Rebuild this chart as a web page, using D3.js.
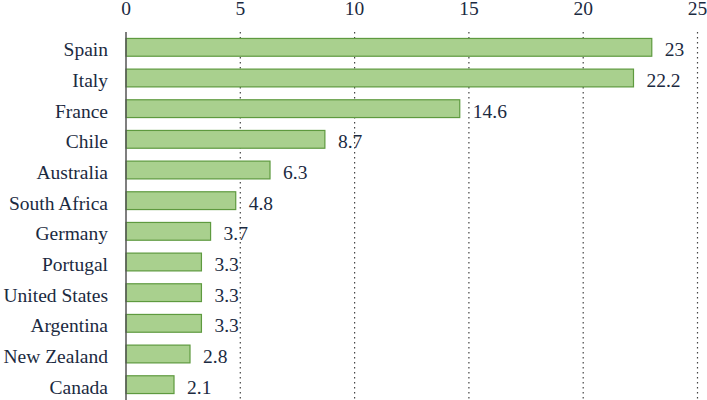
<!DOCTYPE html>
<html>
<head>
<meta charset="utf-8">
<script src="https://cdn.jsdelivr.net/npm/d3@7"></script>
<style>
  html, body { margin: 0; padding: 0; background: #ffffff; }
  svg { display: block; }
</style>
</head>
<body>
<svg id="chart" width="707" height="400"></svg>
<script>
const countries = ["Spain", "Italy", "France", "Chile", "Australia", "South Africa", "Germany", "Portugal", "United States", "Argentina", "New Zealand", "Canada"];
const values = [23, 22.2, 14.6, 8.7, 6.3, 4.8, 3.7, 3.3, 3.3, 3.3, 2.8, 2.1];
const tickValues = [0, 5, 10, 15, 20, 25];

// pick the first installed Times-like serif font
function pickFont(candidates) {
  const ctx = document.createElement("canvas").getContext("2d");
  const sample = "South Africa New Zealand 0123456789";
  const widthOf = f => { ctx.font = "40px " + f; return ctx.measureText(sample).width; };
  const baseMono = widthOf("monospace");
  const baseSans = widthOf("sans-serif");
  for (const c of candidates) {
    const w1 = widthOf("'" + c + "', monospace");
    const w2 = widthOf("'" + c + "', sans-serif");
    if (w1 !== baseMono || w2 !== baseSans) return "'" + c + "'";
  }
  return "serif";
}
const FONT = pickFont(["Liberation Serif", "Tinos", "Times New Roman", "Times", "Nimbus Roman", "DejaVu Serif", "Noto Serif"]) + ", serif";
const TEXT_COLOR = "#1b2a41";

const svg = d3.select("#chart");
const plotLeft = 126, plotRight = 697.5, plotTop = 32, plotBottom = 400;

const x = d3.scaleLinear().domain([0, 25]).range([plotLeft, plotRight]);
const y = d3.scaleBand().domain(countries).range([plotTop, plotBottom]).paddingInner(0.42).paddingOuter(0.21);

// gridlines
svg.append("g").selectAll("line").data(tickValues.filter(d => d > 0)).join("line")
  .attr("x1", d => x(d)).attr("x2", d => x(d))
  .attr("y1", plotTop).attr("y2", plotBottom)
  .attr("stroke", "#444").attr("stroke-width", 1.2)
  .attr("stroke-dasharray", "1.5,3.5");

// top tick labels
svg.append("g").selectAll("text").data(tickValues).join("text")
  .attr("x", d => x(d)).attr("y", 15)
  .attr("text-anchor", "middle")
  .style("font-family", FONT).attr("fill", TEXT_COLOR)
  .style("font-size", "19.5px")
  .text(d => d);

// bars
svg.append("g").selectAll("rect").data(countries).join("rect")
  .attr("x", x(0))
  .attr("y", d => y(d))
  .attr("width", (d, i) => x(values[i]) - x(0))
  .attr("height", y.bandwidth())
  .attr("fill", "#a9d08e")
  .attr("stroke", "#5e9a3f")
  .attr("stroke-width", 1.2);

// left axis line
svg.append("line")
  .attr("x1", x(0)).attr("x2", x(0))
  .attr("y1", plotTop).attr("y2", plotBottom)
  .attr("stroke", "#555").attr("stroke-width", 1.5);

// category labels
svg.append("g").selectAll("text").data(countries).join("text")
  .attr("x", 108)
  .attr("y", d => y(d) + y.bandwidth() / 2 + 9)
  .attr("text-anchor", "end")
  .style("font-family", FONT).attr("fill", TEXT_COLOR)
  .style("font-size", "19.5px")
  .text(d => d);

// value labels
svg.append("g").selectAll("text").data(countries).join("text")
  .attr("x", (d, i) => x(values[i]) + 13)
  .attr("y", d => y(d) + y.bandwidth() / 2 + 9)
  .attr("text-anchor", "start")
  .style("font-family", FONT).attr("fill", TEXT_COLOR)
  .style("font-size", "19.5px")
  .text((d, i) => values[i]);
</script>
</body>
</html>
